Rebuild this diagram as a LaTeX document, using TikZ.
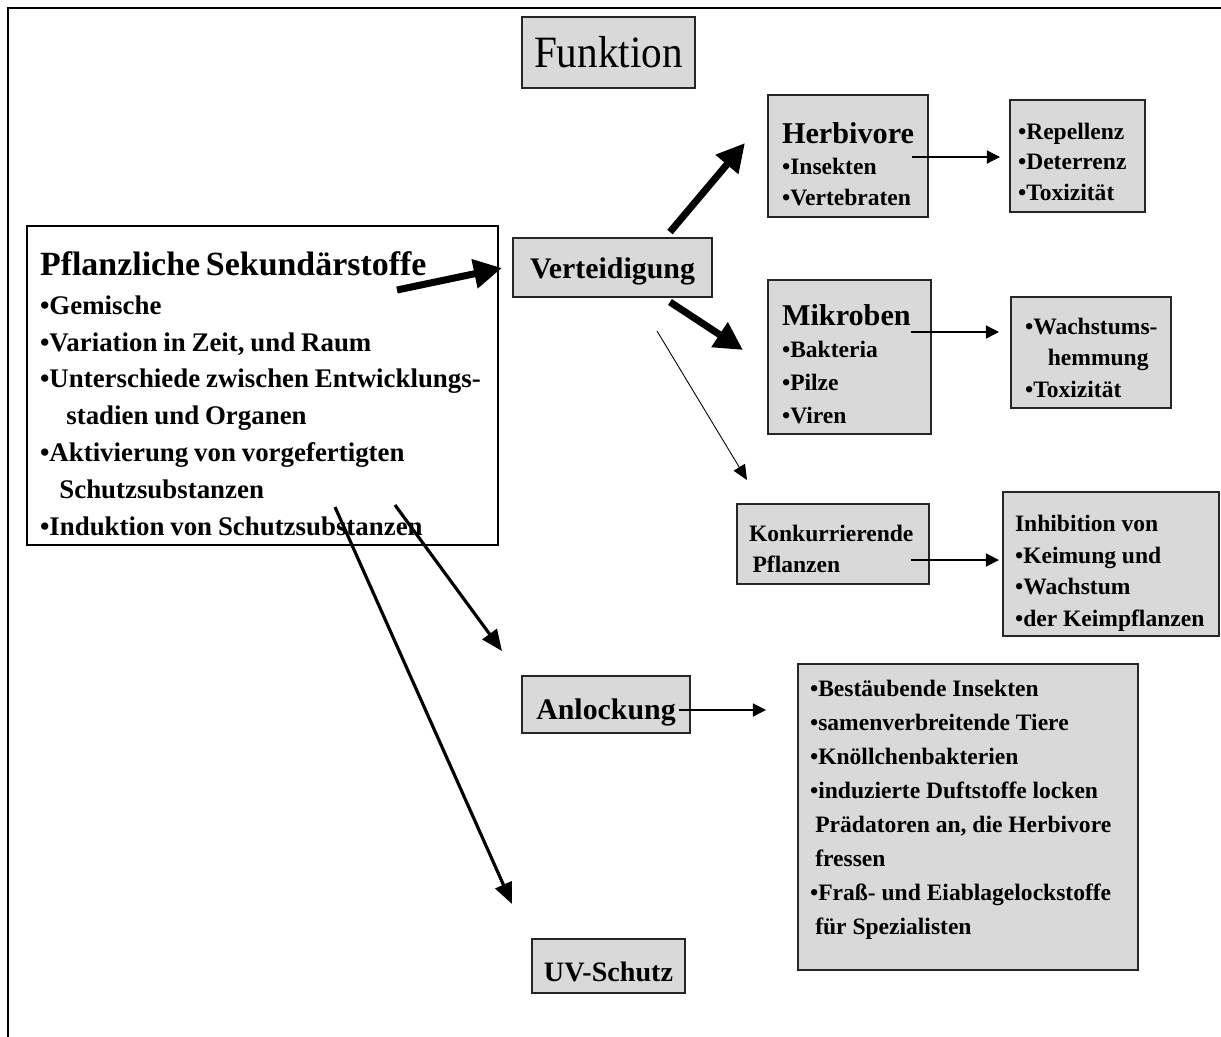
\documentclass[tikz,border=0pt]{standalone}
\usepackage{fontspec}
\setmainfont{Liberation Serif}
\newfontfamily\funkfont[FakeStretch=0.92]{Liberation Serif}
\usetikzlibrary{arrows.meta}
\definecolor{boxgray}{RGB}{217,217,217}
\newcommand{\fT}{\fontsize{17.2pt}{20pt}\selectfont}
\newcommand{\up}[1]{\rule{0pt}{#1}}
\begin{document}
\begin{tikzpicture}[x=0.02cm,y=-0.02cm,
  every node/.append style={execute at begin node={\parindent=0pt\hyphenpenalty=10000\exhyphenpenalty=10000}},
  gbox/.style={draw=black!85, line width=1pt, fill=boxgray, font=\bfseries, align=left, inner ysep=0pt},
  cbox/.style={draw=black!85, line width=1pt, fill=boxgray, font=\bfseries, align=center, inner sep=0pt},
  thickarr/.style={line width=4pt, -{Triangle[length=16pt,width=16pt]}},
  medarr/.style={line width=1.8pt, -{Triangle[length=12pt,width=10pt]}},
  thinarr/.style={line width=0.7pt, -{Triangle[length=7.5pt,width=7.5pt]}},
  hairarr/.style={line width=0.5pt, -{Triangle[length=8.5pt,width=7.5pt]}}]
\useasboundingbox (0,0) rectangle (1221,1036);
\begin{scope}
\clip (0,0) rectangle (1221,1036);
\draw[line width=1.3pt] (8,8) rectangle (1250,1060);
\end{scope}

% nodes
\node[cbox, minimum width=3.46cm, minimum height=1.42cm] (funk) at (608.5,52.5)
  {\funkfont\mdseries\fontsize{25.5pt}{28pt}\selectfont Funktion};

\node[draw=black, line width=0.8pt, fill=white, align=left, font=\bfseries,
  minimum width=9.42cm, minimum height=6.38cm, text width=8.9cm, inner xsep=0.26cm, inner ysep=0pt] (main) at (262.5,385.5)
  {\fontsize{19.3pt}{22pt}\selectfont \up{23pt}Pflanzliche Sekundärstoffe\par
   \fontsize{15.3pt}{22pt}\selectfont •Gemische\par
   \fontsize{15.3pt}{21pt}\selectfont •Variation in Zeit, und Raum\par
   •Unterschiede zwischen Entwicklungs-\par
   \hspace*{15pt}stadien und Organen\par
   •Aktivierung von vorgefertigten\par
   \hspace*{11pt}Schutzsubstanzen\par
   •Induktion von Schutzsubstanzen\par};

\node[cbox, minimum width=3.98cm, minimum height=1.18cm] (vert) at (612.5,267.5)
  {\fontsize{17pt}{20pt}\selectfont \up{16pt}Verteidigung};

\node[gbox, minimum width=3.2cm, minimum height=2.44cm, text width=2.64cm, inner xsep=0.28cm] (herb) at (848,156)
  {\fT \up{21.5pt}Herbivore\par
   \fontsize{13.4pt}{17.6pt}\selectfont •Insekten\par
   •Vertebraten\par};

\node[gbox, minimum width=2.7cm, minimum height=2.24cm, text width=2.38cm, inner xsep=0.16cm] (rep) at (1077.5,156)
  {\fontsize{13.4pt}{17.2pt}\selectfont \up{16pt}•Repellenz\par
   •Deterrenz\par
   •Toxizität\par};

\node[gbox, minimum width=3.26cm, minimum height=3.08cm, text width=2.7cm, inner xsep=0.28cm] (mik) at (849.5,357)
  {\fT \up{20pt}Mikroben\par
   \fontsize{13.4pt}{18.7pt}\selectfont •Bakteria\par
   •Pilze\par
   •Viren\par};

\node[gbox, minimum width=3.2cm, minimum height=2.22cm, text width=2.64cm, inner xsep=0.28cm] (wach) at (1091,352.5)
  {\fontsize{13.4pt}{17.9pt}\selectfont \up{15.3pt}•Wachstums-\par
   \hspace*{13pt}hemmung\par
   •Toxizität\par};

\node[gbox, minimum width=3.84cm, minimum height=1.6cm, text width=3.36cm, inner xsep=0.24cm] (konk) at (833,544)
  {\fontsize{13.4pt}{17.6pt}\selectfont \up{15.3pt}Konkurrierende\par
   \hspace*{2pt}Pflanzen\par};

\node[gbox, minimum width=4.32cm, minimum height=2.88cm, text width=3.84cm, inner xsep=0.24cm] (inh) at (1111,564)
  {\fontsize{13.4pt}{18pt}\selectfont \up{20pt}Inhibition von\par
   •Keimung und\par
   •Wachstum\par
   •der Keimpflanzen\par};

\node[cbox, minimum width=3.36cm, minimum height=1.14cm] (anl) at (606,704.5)
  {\fontsize{17pt}{20pt}\selectfont \up{20.8pt}Anlockung};

\node[gbox, minimum width=6.8cm, minimum height=6.12cm, text width=6.32cm, inner xsep=0.24cm] (best) at (968,817)
  {\fontsize{13.4pt}{19.4pt}\selectfont •Bestäubende Insekten\par
   •samenverbreitende Tiere\par
   •Knöllchenbakterien\par
   •induzierte Duftstoffe locken\par
   \hspace*{3pt}Prädatoren an, die Herbivore\par
   \hspace*{3pt}fressen\par
   •Fraß- und Eiablagelockstoffe\par
   \hspace*{3pt}für Spezialisten\rule[-11pt]{0pt}{11pt}\par};

\node[cbox, minimum width=3.06cm, minimum height=1.08cm] (uv) at (608.5,966)
  {\fontsize{16pt}{19pt}\selectfont \up{17.6pt}UV-Schutz};

% connector end points
\coordinate (mvS) at (397,290);   \coordinate (mvE) at (502,268);
\coordinate (vhS) at (670,232);   \coordinate (vhE) at (745,143);
\coordinate (vmS) at (670,302);   \coordinate (vmE) at (743,350);
\coordinate (vkS) at (657,331);   \coordinate (vkE) at (747,480);
\coordinate (hrS) at (912,157);   \coordinate (hrE) at (1000,157);
\coordinate (mwS) at (911,332);   \coordinate (mwE) at (999,332);
\coordinate (kiS) at (911,560);   \coordinate (kiE) at (999,560);
\coordinate (abS) at (679,710);   \coordinate (abE) at (766,710);
\coordinate (maS) at (395,505);   \coordinate (maE) at (502,651);
\coordinate (muS) at (335,507);   \coordinate (muE) at (512,904);

% connectors
\draw[thickarr] (mvS) -- (mvE);
\draw[thickarr] (vhS) -- (vhE);
\draw[thickarr] (vmS) -- (vmE);
\draw[hairarr] (vkS) -- (vkE);
\draw[thinarr] (hrS) -- (hrE);
\draw[thinarr] (mwS) -- (mwE);
\draw[thinarr] (kiS) -- (kiE);
\draw[thinarr] (abS) -- (abE);
\draw[medarr] (maS) -- (maE);
\draw[medarr] (muS) -- (muE);
\end{tikzpicture}
\end{document}
